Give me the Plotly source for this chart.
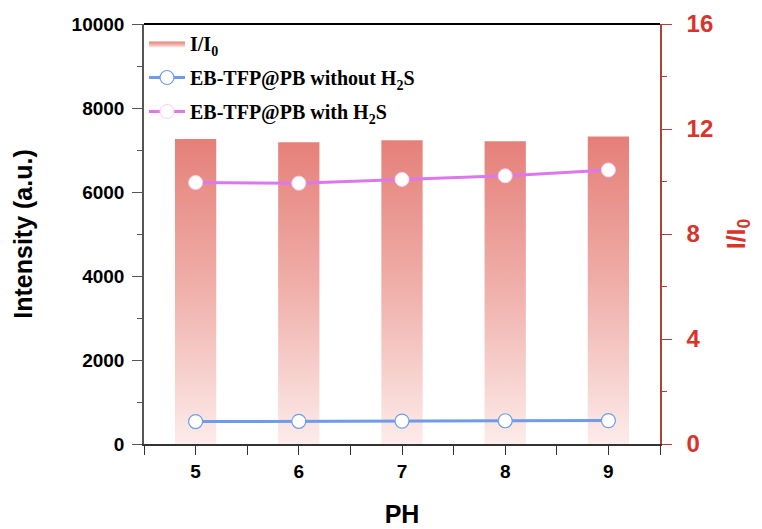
import plotly.graph_objects as go

ph = [5, 6, 7, 8, 9]
ratio = [11.62, 11.50, 11.57, 11.53, 11.71]
without_h2s = [535, 540, 545, 553, 557]
with_h2s = [6225, 6210, 6300, 6385, 6525]
intensity_ticks = [0, 2000, 4000, 6000, 8000, 10000]
ratio_ticks = [0, 4, 8, 12, 16]

bar_width = 0.4
bar_x, bar_y = [], []
for x, r in zip(ph, ratio):
    bar_x += [x - bar_width / 2, x - bar_width / 2, x + bar_width / 2, x + bar_width / 2, x - bar_width / 2, None]
    bar_y += [0, r, r, 0, 0, None]

RED = "#d9342b"
RED_AX = "#b0413a"
BLUE = "#6f9be8"
PINK = "#dd77ee"

fig = go.Figure()
# bars on primary y (drawn first, right side), lines on y2 (left side, drawn on top)
fig.add_trace(go.Scatter(
    x=bar_x, y=bar_y, yaxis="y", mode="lines", fill="toself",
    line=dict(width=0, color="rgba(0,0,0,0)"),
    fillgradient=dict(type="vertical", start=0, stop=11.7,
                      colorscale=[[0, "#fcecea"], [0.5, "#f0b0ab"], [1, "#e57f78"]]),
    name="I/I<sub>0</sub>", hoverinfo="skip", legendgroup="a",
))
fig.add_trace(go.Scatter(
    x=ph, y=without_h2s, yaxis="y2", mode="lines+markers",
    line=dict(color=BLUE, width=3),
    marker=dict(size=14, color="white", line=dict(color=BLUE, width=1.2)),
    name="EB-TFP@PB without H<sub>2</sub>S", legendgroup="b",
))
fig.add_trace(go.Scatter(
    x=ph, y=with_h2s, yaxis="y2", mode="lines+markers",
    line=dict(color=PINK, width=3),
    marker=dict(size=14, color="white", line=dict(color="#f3d0f7", width=1)),
    name="EB-TFP@PB with H<sub>2</sub>S", legendgroup="c",
))

fig.update_layout(
    width=746, height=521,
    margin=dict(l=136, r=94, t=16, b=85),
    plot_bgcolor="white", paper_bgcolor="white",
    showlegend=True,
    legend=dict(x=0.0, y=1.0, xanchor="left", yanchor="top",
                bgcolor="rgba(0,0,0,0)", tracegroupgap=5,
                font=dict(family="Liberation Serif, Times New Roman", size=20, color="black", weight="bold"),
                itemwidth=36),
    xaxis=dict(range=[4.5, 9.5], tickvals=ph, ticktext=[str(v) for v in ph], automargin=False,
               showgrid=False, zeroline=False, showline=True, linecolor="#333", linewidth=1.5,
               mirror=False, ticks="outside", ticklen=9, tickcolor="#333",
               minor=dict(tickvals=[4.5, 5.5, 6.5, 7.5, 8.5, 9.5], ticks="outside", ticklen=9, tickcolor="#333"),
               tickfont=dict(family="Liberation Sans, Arial", size=19, color="black", weight="bold"),
               title=dict(text="PH", standoff=25,
                          font=dict(family="Liberation Sans, Arial", size=25, color="black", weight="bold"))),
    yaxis2=dict(overlaying="y", side="left", range=[0, 10000], tickvals=intensity_ticks,
                ticktext=[str(v) for v in intensity_ticks], automargin=False,
                showgrid=False, zeroline=False, showline=True, linecolor="#555", linewidth=1.5,
                ticks="outside", ticklen=10, tickcolor="#555", ticklabelstandoff=4,
                minor=dict(dtick=1000, ticks="outside", ticklen=5, tickcolor="#555"),
                tickfont=dict(family="Liberation Sans, Arial", size=19, color="black", weight="bold"),
                title=dict(text="Intensity (a.u.)", standoff=32,
                           font=dict(family="Liberation Sans, Arial", size=25, color="black", weight="bold"))),
    yaxis=dict(side="right", range=[0, 16], tickvals=ratio_ticks, automargin=False,
               showgrid=False, zeroline=False, showline=True, linecolor=RED_AX, linewidth=1.5,
               ticks="outside", ticklen=10, tickcolor=RED_AX, ticklabelstandoff=10,
               minor=dict(tickvals=[2, 6, 10, 14], ticks="outside", ticklen=5, tickcolor=RED_AX),
               tickfont=dict(family="Liberation Sans, Arial", size=24, color=RED, weight="bold"),
               title=dict(text="I/I<sub>0</sub>", standoff=22,
                          font=dict(family="Liberation Sans, Arial", size=25, color=RED, weight="bold"))),
    shapes=[dict(type="line", xref="paper", yref="paper", x0=0, x1=1, y0=1, y1=1,
                 line=dict(color="black", width=2))],
)

fig.write_html("out.html")
